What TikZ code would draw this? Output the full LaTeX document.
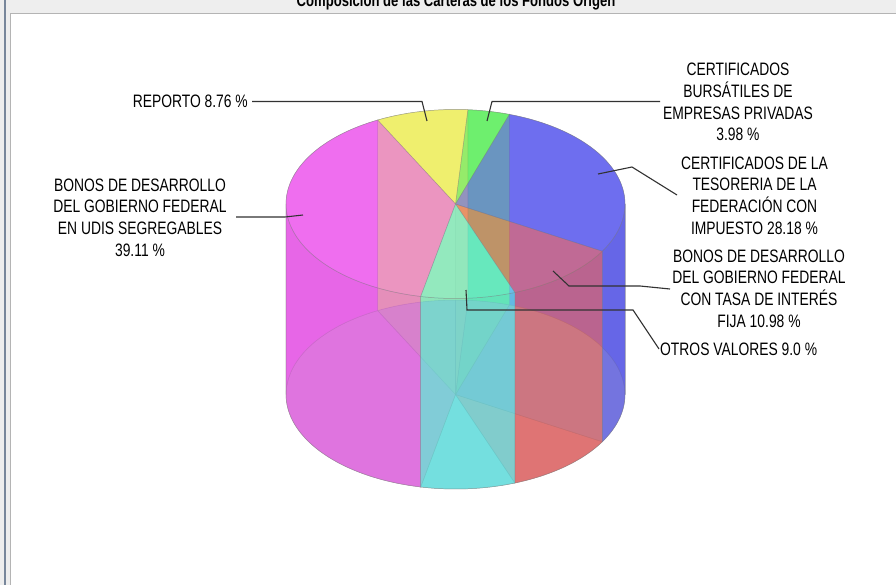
\documentclass[tikz,border=0pt]{standalone}
\usepackage{fontspec}
\setmainfont{Liberation Sans}[FakeStretch=0.77]
\definecolor{cR}{RGB}{255,85,85}
\definecolor{cB}{RGB}{85,85,255}
\definecolor{cG}{RGB}{85,255,85}
\definecolor{cY}{RGB}{255,255,85}
\definecolor{cM}{RGB}{255,85,255}
\definecolor{cC}{RGB}{85,255,255}
\definecolor{cGray}{RGB}{128,128,128}
\definecolor{cLight}{RGB}{192,192,192}
\definecolor{bandgray}{RGB}{238,238,238}
\definecolor{leadcol}{RGB}{50,50,50}
\def\cx{455.5}\def\ty{204}\def\by{394.5}\def\rx{169.5}\def\ry{94.5}
\newcommand\TopFace[3]{\path[face,fill=#1] (\cx,\ty) -- plot[domain=#2:#3,samples=40] ({\cx+\rx*cos(\x)},{\ty-\ry*sin(\x)}) -- cycle;}
\newcommand\BotFace[3]{\path[face,fill=#1] (\cx,\by) -- plot[domain=#2:#3,samples=40] ({\cx+\rx*cos(\x)},{\by-\ry*sin(\x)}) -- cycle;}
\newcommand\OuterSide[3]{\path[face,fill=#1] plot[domain=#2:#3,samples=40] ({\cx+\rx*cos(\x)},{\ty-\ry*sin(\x)}) -- plot[domain=#3:#2,samples=40] ({\cx+\rx*cos(\x)},{\by-\ry*sin(\x)}) -- cycle;}
\newcommand\RadialFace[2]{\path[face,fill=#1] (\cx,\by) -- (\cx,\ty) -- ({\cx+\rx*cos(#2)},{\ty-\ry*sin(#2)}) -- ({\cx+\rx*cos(#2)},{\by-\ry*sin(#2)}) -- cycle;}
\tikzset{
  face/.style={fill opacity=0.5, draw=cGray, draw opacity=0.4, line width=0.5pt},
  lbl/.style={font=\fontsize{18}{21.7}\selectfont, align=center, inner sep=0pt, text=black},
  lead/.style={draw=leadcol, line width=1.1pt}
}
\begin{document}
\begin{tikzpicture}[x=1pt,y=-1pt]
\clip (0,0) rectangle (896,585);
\fill[bandgray] (0,0) rectangle (896,585);
\fill[white] (10.5,13.5) rectangle (896,585);
\draw[draw={rgb,255:red,180;green,180;blue,180}, line width=1pt] (10.5,585) -- (10.5,13.5) -- (896,13.5);
\draw[draw={rgb,255:red,120;green,135;blue,155}, line width=1.2pt] (5,0) -- (5,585);
\node[font=\bfseries\fontsize{17}{20}\selectfont, anchor=base, inner sep=0pt] (title) at (456,7) {Composición de las Carteras de los Fondos Origen};
% bottom sectors and height polygons, in data order
\BotFace{cR}{-69.5}{-29.97}   \RadialFace{cLight}{-69.5}
\BotFace{cB}{-29.97}{71.48}   \RadialFace{cLight}{-29.97}
\BotFace{cG}{71.48}{85.81}    \RadialFace{cLight}{71.48}
\BotFace{cY}{85.81}{117.35}   \RadialFace{cLight}{85.81}
\BotFace{cM}{117.35}{258.15}  \RadialFace{cLight}{117.35}
\BotFace{cC}{258.15}{290.5}   \RadialFace{cLight}{258.15}
% back and front walls in gray
\OuterSide{cGray}{0}{180}
\OuterSide{cGray}{180}{360}
% back sides
\OuterSide{cB}{0}{71.48}
\OuterSide{cG}{71.48}{85.81}
\OuterSide{cY}{85.81}{117.35}
\OuterSide{cM}{117.35}{180}
% front sides
\OuterSide{cR}{290.5}{330.03}
\OuterSide{cB}{330.03}{360}
\OuterSide{cM}{180}{258.15}
\OuterSide{cC}{258.15}{290.5}
% tops
\TopFace{cR}{-69.5}{-29.97}
\TopFace{cB}{-29.97}{71.48}
\TopFace{cG}{71.48}{85.81}
\TopFace{cY}{85.81}{117.35}
\TopFace{cM}{117.35}{258.15}
\TopFace{cC}{258.15}{290.5}
% labels
\node[lbl, anchor=east] (rep) at (248,101.5) {REPORTO 8.76 \%};
\node[lbl] (udis) at (140,217.5) {BONOS DE DESARROLLO\\DEL GOBIERNO FEDERAL\\EN UDIS SEGREGABLES\\39.11 \%};
\node[lbl] (burs) at (738,102) {CERTIFICADOS\\BURSÁTILES DE\\EMPRESAS PRIVADAS\\3.98 \%};
\node[lbl] (cetes) at (754.5,195.5) {CERTIFICADOS DE LA\\TESORERIA DE LA\\FEDERACIÓN CON\\IMPUESTO 28.18 \%};
\node[lbl] (fija) at (759,288.5) {BONOS DE DESARROLLO\\DEL GOBIERNO FEDERAL\\CON TASA DE INTERÉS\\FIJA 10.98 \%};
\node[lbl, anchor=west] (otros) at (660,349) {OTROS VALORES 9.0 \%};
% leader lines
\coordinate (repA) at (427,121); \coordinate (repB) at (422,101.5);
\coordinate (bursA) at (487,121); \coordinate (bursB) at (492,101.5); \coordinate (bursC) at (660,101.5);
\coordinate (cetA) at (598,174); \coordinate (cetB) at (632,167); \coordinate (cetC) at (677,195);
\coordinate (fijA) at (553,271); \coordinate (fijB) at (569,286); \coordinate (fijC) at (640,286); \coordinate (fijD) at (670,289);
\coordinate (otrA) at (466,290); \coordinate (otrB) at (467,310); \coordinate (otrC) at (633,310);
\coordinate (udA) at (303,215); \coordinate (udB) at (285,217);
\draw[lead] ([xshift=4pt]rep.east) -- (repB) -- (repA);
\draw[lead] (bursA) -- (bursB) -- (bursC);
\draw[lead] (cetA) -- (cetB) -- (cetC);
\draw[lead] (fijA) -- (fijB) -- (fijC) -- (fijD);
\draw[lead] (otrA) -- (otrB) -- (otrC) -- ([xshift=-1pt]otros.west);
\draw[lead] (udA) -- (udB) -- (236,217);
\end{tikzpicture}
\end{document}
